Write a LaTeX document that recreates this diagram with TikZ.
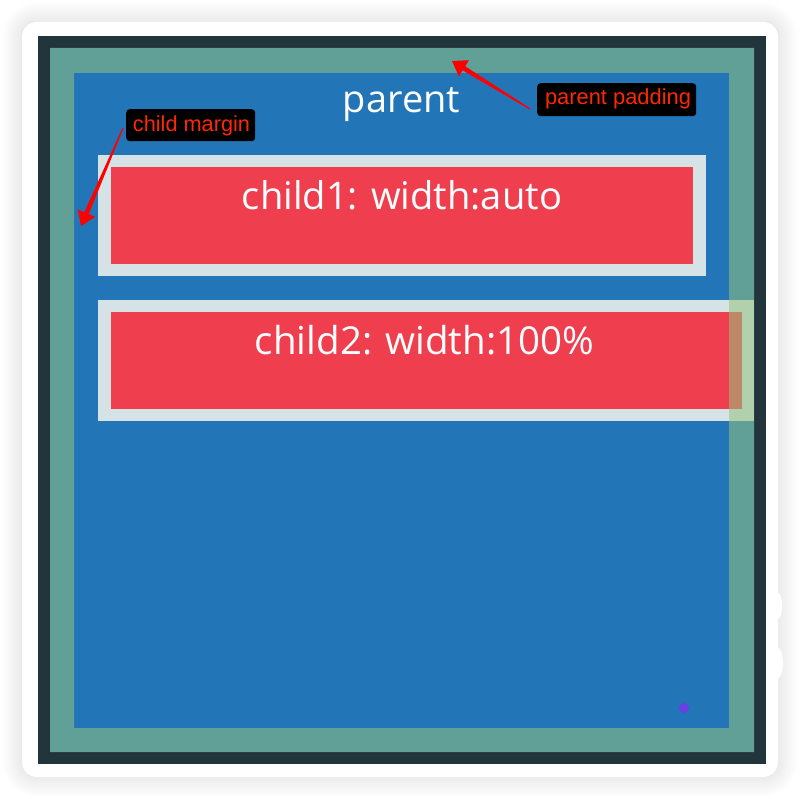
\documentclass[tikz,border=0pt]{standalone}
\usepackage{fontspec}
\usepackage{graphicx}
\setmainfont{Open Sans}
\newfontfamily\tagfont{Liberation Sans}
\usetikzlibrary{calc}
\definecolor{darkb}{RGB}{34,53,61}
\definecolor{pblue}{RGB}{34,118,183}
\definecolor{lightm}{RGB}{214,227,230}
\definecolor{cred}{RGB}{239,63,79}
\definecolor{padov}{RGB}{147,196,125}
\definecolor{lblred}{RGB}{255,40,0}
\definecolor{arrred}{RGB}{254,0,0}
\definecolor{dotpurple}{RGB}{106,63,230}
\tikzset{
  marginbox/.style={fill=lightm, draw=none, inner sep=0pt, anchor=north west},
  childbox/.style={fill=cred, draw=none, inner sep=0pt, anchor=north west},
  bigtext/.style={anchor=base, text=white, inner sep=0pt},
  tag/.style={fill=black, rounded corners=3.5pt, inner sep=0pt, anchor=north west},
  tagtext/.style={anchor=base, text=lblred, inner sep=0pt, font=\tagfont},
}
\newcommand{\taperarrow}[2]{%
  \path ($(#2)!14pt!(#1)$) coordinate (hb);
  \fill[arrred] ($(#1)!0.6pt!90:(#2)$) -- ($(hb)!2.4pt!90:(#2)$) -- ($(hb)!9.5pt!90:(#2)$) -- (#2)
     -- ($(hb)!9.5pt!-90:(#2)$) -- ($(hb)!2.4pt!-90:(#2)$) -- ($(#1)!0.6pt!-90:(#2)$) -- cycle;}
\begin{document}
\begin{tikzpicture}[x=1pt,y=-1pt]
\useasboundingbox (0,0) rectangle (800,799);
\fill[white] (0,0) rectangle (800,799);
% card shadow
\foreach \i [evaluate=\i as \r using 15+\i] in {1,...,20}
  \fill[black,opacity=0.004,rounded corners=\r pt] (22-\i,22-\i) rectangle (778+\i,777+\i);
\fill[white] (777,663) ellipse (6pt and 16pt);
\fill[white] (778,606) ellipse (4pt and 13pt);
% card
\fill[white,rounded corners=15pt] (22,22) rectangle (778,777);
% parent
\fill[darkb] (38,36) rectangle (766,764);
\fill[pblue] (50,48) rectangle (754,752);
\node[bigtext] (ptxt) at (401.5,113) {\resizebox{117pt}{!}{parent}};
% child 1
\node[marginbox, minimum width=608pt, minimum height=121pt] (c1m) at (98,155) {};
\node[childbox, minimum width=582pt, minimum height=97pt] (c1) at (111,167) {};
\node[bigtext] (c1txt) at (402,210) {\resizebox{320pt}{!}{child1: width:auto}};
% child 2
\node[marginbox, minimum width=656pt, minimum height=121pt] (c2m) at (98,300) {};
\node[childbox, minimum width=631pt, minimum height=97pt] (c2) at (111,312) {};
\node[bigtext] (c2txt) at (424.5,355) {\resizebox{339pt}{!}{child2: width:100\%}};
% padding overlay
\fill[padov, opacity=0.55, even odd rule] (50,48) rectangle (754,752) (74,73) rectangle (729,728);
% dot
\node[circle, fill=dotpurple, inner sep=0pt, minimum size=10pt] (dot) at (684,708) {};
% labels
\node[tag, minimum width=129pt, minimum height=32pt] (cmbox) at (126,109) {};
\node[tagtext] (cmtxt) at (191.5,132) {\resizebox{117pt}{!}{child margin}};
\node[tag, minimum width=159pt, minimum height=33pt] (ppbox) at (537,83) {};
\node[tagtext] (pptxt) at (618,105) {\resizebox{146pt}{!}{parent padding}};
% arrows
\coordinate (cmtail) at (123,128);
\coordinate (cmtip) at (81,226);
\taperarrow{cmtail}{cmtip}
\coordinate (pptail) at (530,109);
\coordinate (pptip) at (452,61);
\taperarrow{pptail}{pptip}
\end{tikzpicture}
\end{document}
